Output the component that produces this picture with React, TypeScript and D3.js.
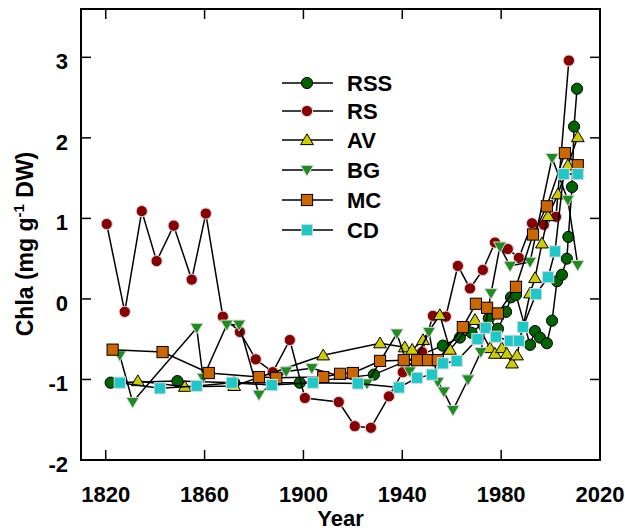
import React from "react";
import * as d3 from "d3";

// ---- data (year, Chla value) ----
const rssYears = [1822, 1849, 1872, 1898.5, 1928.5, 1956.4, 1963.3, 1968, 1975, 1978.7, 1982, 1984, 1986, 1991.7, 1993.7, 1995.7, 1998.5, 2000.6, 2002.6, 2004.6, 2006.6, 2007.2, 2008.7, 2009.5, 2010.7];
const rssValues = [-1.04, -1.02, -1.04, -1.04, -0.94, -0.58, -0.48, -0.42, -0.24, -0.37, -0.16, 0.02, 0.05, -0.57, -0.4, -0.48, -0.55, -0.27, 0.22, 0.3, 0.5, 0.77, 1.39, 2.14, 2.61];

const rsYears = [1820.4, 1827.7, 1834.6, 1840.6, 1847.5, 1854.8, 1860.5, 1867.4, 1874.3, 1880.7, 1887.6, 1894.5, 1900.6, 1914.3, 1920.8, 1927.3, 1934.6, 1940.2, 1948, 1952.4, 1957.6, 1962.5, 1967.4, 1972.6, 1977.5, 1982.7, 1987.2, 1992.5, 1997.3, 2002.2, 2007.4];
const rsValues = [0.93, -0.16, 1.09, 0.47, 0.91, 0.24, 1.06, -0.22, -0.41, -0.75, -0.91, -0.51, -1.23, -1.28, -1.58, -1.6, -1.21, -0.91, -0.66, -0.21, -0.22, 0.41, 0.13, 0.36, 0.7, 0.62, 0.51, 0.94, 0.92, 1.02, 2.96];

const avYears = [1833, 1852, 1872, 1908, 1931, 1941, 1944, 1948.4, 1955.2, 1959.3, 1969.4, 1975.5, 1977.5, 1980.3, 1982.3, 1984.4, 1986.4, 1991.7, 1993.7, 1996.5, 1999, 2003, 2007, 2011];
const avValues = [-1.02, -1.09, -1.08, -0.7, -0.55, -0.6, -0.63, -0.51, -0.2, -0.63, -0.26, -0.61, -0.68, -0.61, -0.68, -0.8, -0.7, 0.07, 0.26, 0.69, 1.03, 1.3, 1.66, 2.01];

const bgYears = [1825.7, 1830.9, 1856.8, 1859.4, 1869, 1874, 1882, 1893, 1903.4, 1925.7, 1937.8, 1943, 1950.8, 1954.4, 1956.8, 1960.5, 1966.6, 1971.8, 1975.9, 1979.5, 1983.6, 1991.7, 2000.6, 2007, 2011];
const bgValues = [-0.7, -1.28, -0.36, -0.98, -0.32, -0.32, -1.19, -0.9, -0.86, -1.05, -0.43, -0.9, -0.41, -1.03, -1.15, -1.38, -1.0, -0.66, 0.07, 0.65, 0.41, 0.46, 1.75, 1.23, 0.42];

const mcYears = [1822.8, 1843, 1861.7, 1882, 1889, 1908, 1914.8, 1920, 1931, 1940.6, 1946, 1950.4, 1954.4, 1964.5, 1969.8, 1974.3, 1978.7, 1986, 1992.9, 1998.5, 2005.8, 2011];
const mcValues = [-0.63, -0.66, -0.92, -0.97, -0.98, -0.97, -0.93, -0.92, -0.77, -0.76, -0.76, -0.76, -0.76, -0.35, -0.06, -0.11, -0.18, 0.15, 0.8, 1.15, 1.81, 1.66];

const cdYears = [1825.7, 1841.9, 1856.8, 1871, 1887.2, 1903.8, 1922, 1938.6, 1946, 1952, 1956.4, 1962, 1970.4, 1973.8, 1977.9, 1983.6, 1987.2, 1988.8, 1994.1, 1999, 2001.8, 2005.3, 2011];
const cdValues = [-1.04, -1.11, -1.08, -1.04, -1.07, -1.04, -1.05, -1.1, -0.98, -0.94, -0.8, -0.77, -0.5, -0.36, -0.47, -0.52, -0.52, -0.35, 0.06, 0.27, 0.59, 1.55, 1.55];

const xTicks = [1820, 1860, 1900, 1940, 1980, 2020];
const yTicks = [-2, -1, 0, 1, 2, 3];

type Shape = "circle" | "up" | "down" | "square";
const seriesDefs: { name: string; years: number[]; values: number[]; shape: Shape; fill: string; stroke: string }[] = [
  { name: "RSS", years: rssYears, values: rssValues, shape: "circle", fill: "#006400", stroke: "#000" },
  { name: "RS", years: rsYears, values: rsValues, shape: "circle", fill: "#880000", stroke: "#d8d8d8" },
  { name: "AV", years: avYears, values: avValues, shape: "up", fill: "#cccc00", stroke: "#000" },
  { name: "BG", years: bgYears, values: bgValues, shape: "down", fill: "#1e8c1e", stroke: "#d8d8d8" },
  { name: "MC", years: mcYears, values: mcValues, shape: "square", fill: "#cc6600", stroke: "#000" },
  { name: "CD", years: cdYears, values: cdValues, shape: "square", fill: "#1fc8c8", stroke: "#d8d8d8" },
];

const FONT = "'Liberation Sans', Arial, sans-serif";

function Marker({ shape, cx, cy, fill, stroke, scale = 1 }: { shape: Shape; cx: number; cy: number; fill: string; stroke: string; scale?: number }) {
  const sw = 1;
  if (shape === "circle") return <circle cx={cx} cy={cy} r={5.6 * scale} fill={fill} stroke={stroke} strokeWidth={sw} />;
  if (shape === "square") {
    const h = 5.6 * scale;
    return <rect x={cx - h} y={cy - h} width={2 * h} height={2 * h} fill={fill} stroke={stroke} strokeWidth={sw} />;
  }
  const w = 6.4 * scale;
  const a = 6.2 * scale;
  const b = 4.6 * scale;
  const d =
    shape === "up"
      ? `M${cx},${cy - a}L${cx + w},${cy + b}L${cx - w},${cy + b}Z`
      : `M${cx},${cy + a}L${cx + w},${cy - b}L${cx - w},${cy - b}Z`;
  return <path d={d} fill={fill} stroke={stroke} strokeWidth={sw} />;
}

export default function App() {
  const left = 81, right = 600, top = 9, bottom = 460;
  const x = d3.scaleLinear().domain([1810, 2020]).range([left, right]);
  const y = d3.scaleLinear().domain([-2, 3.6]).range([bottom, top]);
  const line = d3
    .line<[number, number]>()
    .x((d) => x(d[0]))
    .y((d) => y(d[1]));

  const legendRows = [83, 111, 140, 170, 200, 230];

  return (
    <svg
      width={625}
      height={532}
      style={{ position: "absolute", left: 0, top: 0, background: "#fff" }}
      fontFamily={FONT}
    >
      <rect x={0} y={0} width={625} height={532} fill="#fff" />
      {/* series */}
      {seriesDefs.map((s) => {
        const pts = s.years.map((yr, i) => [yr, s.values[i]] as [number, number]);
        return (
          <g key={s.name}>
            <path d={line(pts) || ""} fill="none" stroke="#000" strokeWidth={1.5} />
            {pts.map((p, i) => (
              <Marker key={i} shape={s.shape} cx={x(p[0])} cy={y(p[1])} fill={s.fill} stroke={s.stroke} />
            ))}
          </g>
        );
      })}
      {/* frame */}
      <rect x={left} y={top} width={right - left} height={bottom - top} fill="none" stroke="#000" strokeWidth={2} />
      {/* ticks */}
      {xTicks.map((t) => (
        <g key={"x" + t}>
          <line x1={x(t)} x2={x(t)} y1={bottom} y2={bottom - 10} stroke="#000" strokeWidth={1.5} />
          <line x1={x(t)} x2={x(t)} y1={top} y2={top + 10} stroke="#000" strokeWidth={1.5} />
          <text x={x(t)} y={502} textAnchor="middle" fontSize={22} fontWeight="bold">
            {t}
          </text>
        </g>
      ))}
      {yTicks.map((t) => (
        <g key={"y" + t}>
          <line x1={left} x2={left + 10} y1={y(t)} y2={y(t)} stroke="#000" strokeWidth={1.5} />
          <line x1={right} x2={right - 10} y1={y(t)} y2={y(t)} stroke="#000" strokeWidth={1.5} />
          <text x={68} y={y(t) + 12} textAnchor="end" fontSize={22} fontWeight="bold">
            {t}
          </text>
        </g>
      ))}
      {/* axis titles */}
      <text x={(left + right) / 2} y={526} textAnchor="middle" fontSize={22} fontWeight="bold">
        Year
      </text>
      <text transform="translate(33,244) rotate(-90)" textAnchor="middle" fontSize={23} fontWeight="bold">
        Chla (mg g
        <tspan fontSize={15} dy={-9}>-1</tspan>
        <tspan dy={9}> DW)</tspan>
      </text>
      {/* legend */}
      {seriesDefs.map((s, i) => (
        <g key={"lg" + s.name}>
          <line x1={282} x2={333} y1={legendRows[i]} y2={legendRows[i]} stroke="#000" strokeWidth={1.5} />
          <Marker shape={s.shape} cx={307} cy={legendRows[i]} fill={s.fill} stroke={s.stroke} />
          <text x={347} y={legendRows[i] + 8} fontSize={22} fontWeight="bold">
            {s.name}
          </text>
        </g>
      ))}
    </svg>
  );
}
